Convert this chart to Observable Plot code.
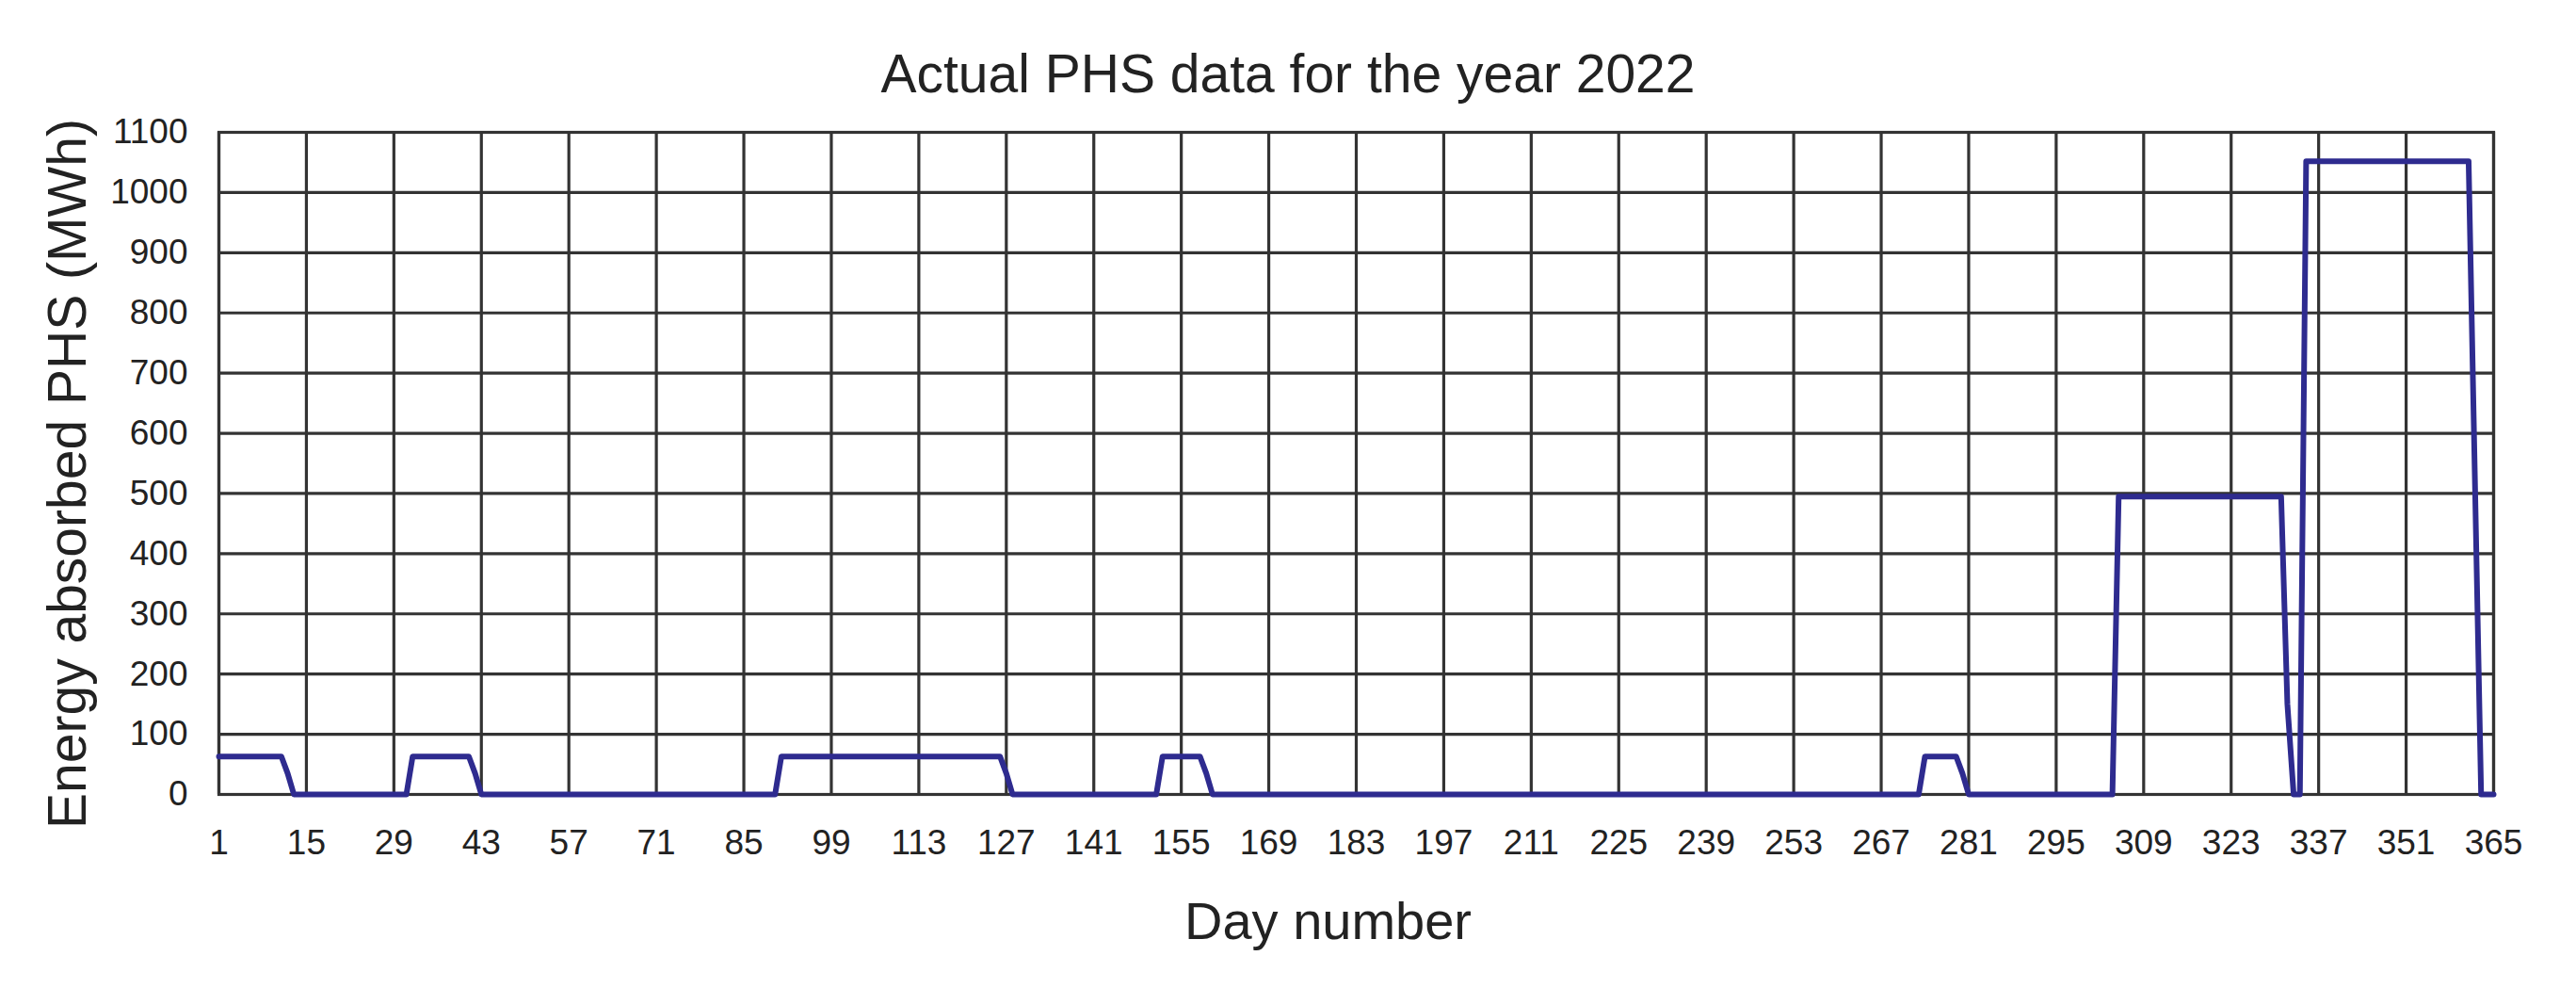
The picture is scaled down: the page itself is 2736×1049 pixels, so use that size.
<!DOCTYPE html>
<html>
<head>
<meta charset="utf-8">
<script src="https://cdn.jsdelivr.net/npm/d3@7"></script>
<script src="https://cdn.jsdelivr.net/npm/@observablehq/plot@0.6"></script>
<style>
  html, body { margin: 0; padding: 0; background: #fff; }
  #title {
    width: 2736px; height: 90px; box-sizing: border-box;
    padding-top: 49px;
    font: 57px/58px "Liberation Sans", Arial, sans-serif;
    color: #222; text-align: center; white-space: nowrap;
  }
  #chart svg { display: block; overflow: visible; }
</style>
</head>
<body>
<div id="title">Actual PHS data for the year 2022</div>
<div id="chart"></div>
<script>
// Breakpoints of the line (day number, MWh)
const days   = [1, 11, 12, 13, 31, 32, 41, 42, 43, 90, 91, 126, 127, 128, 151, 152, 158, 159, 160,
                273, 274, 279, 280, 281, 304, 305, 331, 332, 333, 334, 335, 361, 362, 363, 365];
const energy = [63, 63, 35, 0, 0, 63, 63, 35, 0, 0, 63, 63, 35, 0, 0, 63, 63, 35, 0,
                0, 63, 63, 35, 0, 0, 495, 495, 150, 0, 0, 1052, 1052, 526, 0, 0];

const xTicks = [1, 15, 29, 43, 57, 71, 85, 99, 113, 127, 141, 155, 169, 183, 197, 211, 225,
                239, 253, 267, 281, 295, 309, 323, 337, 351, 365];
const yTicks = [0, 100, 200, 300, 400, 500, 600, 700, 800, 900, 1000, 1100];

const titleText = "Actual PHS data for the year 2022";
const xLabel = "Day number";
const yLabel = "Energy absorbed PHS (MWh)";

const data = days.map((d, i) => ({day: d, energy: energy[i]}));

const gridStyle = {stroke: "#333", strokeOpacity: 1, strokeWidth: 3.2};

const chart = Plot.plot({
  width: 2736,
  height: 959,
  marginTop: 50,
  marginRight: 88,
  marginBottom: 206,
  marginLeft: 232,
  style: {fontFamily: "'Liberation Sans', Arial, sans-serif", background: "transparent", color: "#222"},
  x: {domain: [1, 365]},
  y: {domain: [0, 1100]},
  marks: [
    Plot.gridX(xTicks, gridStyle),
    Plot.gridY(yTicks, gridStyle),
    Plot.frame({stroke: "#333", strokeWidth: 3.2}),
    Plot.axisX(xTicks, {tickSize: 0, tickPadding: 37, fontSize: 37, label: null, tickFormat: d => String(d)}),
    Plot.axisY(yTicks, {tickSize: 0, tickPadding: 33, fontSize: 37, label: null, tickFormat: d => String(d)}),
    Plot.line(data, {x: "day", y: "energy", stroke: "#2e2b8f", strokeWidth: 6}),
    Plot.text([yLabel], {text: d => d, frameAnchor: "left", textAnchor: "middle", rotate: -90, dx: -160, dy: 11, fontSize: 57}),
    Plot.text([xLabel], {text: d => d, frameAnchor: "bottom", textAnchor: "middle", dx: -30, dy: 153, fontSize: 56})
  ]
});
document.getElementById("title").textContent = titleText;
document.getElementById("chart").appendChild(chart);
</script>
</body>
</html>
